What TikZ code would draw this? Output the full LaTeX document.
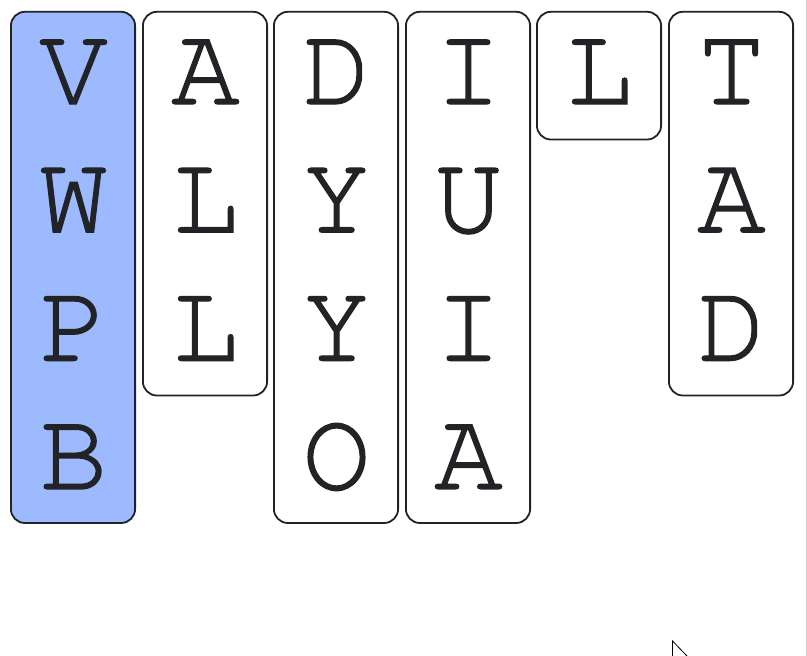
\documentclass[tikz,border=0pt]{standalone}
\usepackage[T1,TU]{fontenc}
\definecolor{ink}{HTML}{222326}
\definecolor{sel}{HTML}{9CBAFD}
\definecolor{edge}{HTML}{CFCFCF}
\newcommand{\thickglyph}[1]{\special{pdf:code q 2 Tr 1.3 w 0.133 0.137 0.149 RG}#1\special{pdf:code Q}}
\tikzset{
  col/.style={draw=ink, line width=1.8pt, rounded corners=14pt, minimum width=124.2pt, inner sep=0pt, anchor=north},
  letter/.style={font=\fontencoding{T1}\fontfamily{pcr}\fontsize{114}{114}\selectfont, text=ink, anchor=base, inner sep=0pt}
}
\begin{document}
\begin{tikzpicture}[x=1pt,y=-1pt]
\useasboundingbox[fill=white] (0,0) rectangle (807,656);
% columns
\node[col, fill=sel, minimum height=511.2pt] (c1) at (73,10.9) {};
\node[col, minimum height=383.7pt] (c2) at (205,10.9) {};
\node[col, minimum height=511.2pt] (c3) at (336,10.9) {};
\node[col, minimum height=511.2pt] (c4) at (468,10.9) {};
\node[col, minimum height=127.7pt] (c5) at (599,10.9) {};
\node[col, minimum height=383.7pt] (c6) at (731,10.9) {};
% letters
\foreach \x/\col/\letters in {73/1/{V,W,P,B}, 205/2/{A,L,L}, 336/3/{D,Y,Y,O}, 468/4/{I,U,I,A}, 599/5/{L}, 731/6/{T,A,D}}{
  \foreach \l [count=\r] in \letters {
    \node[letter] (l\col\r) at (\x+0.5, 104+128.3*\r-128.3) {\thickglyph{\l}};
  }
}
% screen edge and pointer
\draw[edge, line width=1pt] (806.5,0) coordinate (e1) -- (806.5,656) coordinate (e2);
\coordinate (p1) at (672.5,641);
\coordinate (p2) at (672.5,656);
\coordinate (p3) at (687,656);
\filldraw[fill=white, draw=black, line width=0.8pt] (p2) -- (p1) -- (p3);
\end{tikzpicture}
\end{document}
